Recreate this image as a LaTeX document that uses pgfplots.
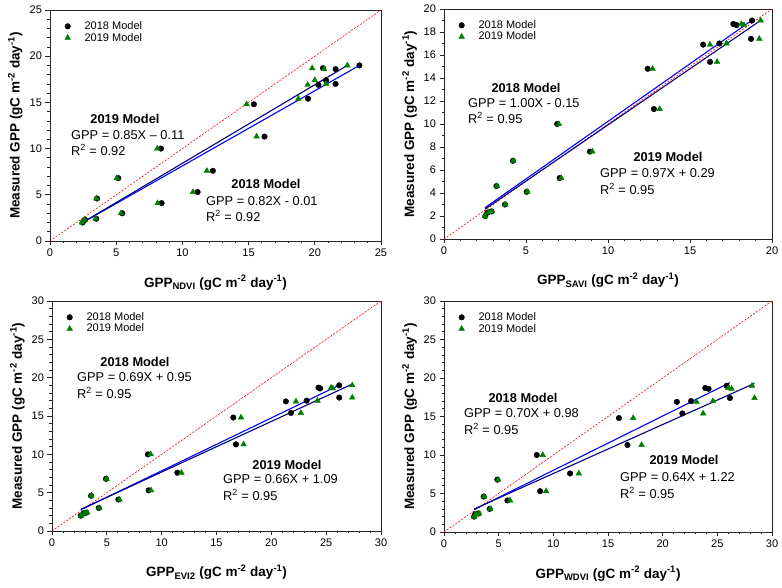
\documentclass[border=0pt]{standalone}
\usepackage{pgfplots}
\usepackage{pgfplotstable}
\pgfplotsset{compat=1.18}
\usepackage{fontspec}
\setmainfont{Liberation Sans}
\definecolor{mgreen}{RGB}{0,128,0}
\definecolor{mblue}{RGB}{0,0,255}
\definecolor{mnavy}{RGB}{0,0,128}

% y = measured GPP ; a = 2018 model ; b = 2019 model
\pgfplotstableread{
y     a      b
19.0  23.37  22.46
18.7  20.62  19.80
18.6  21.57  20.70
17.4  20.85  20.00
17.0  21.57  20.85
16.9  20.27  19.46
15.4  19.49  18.76
14.8  15.40  14.85
11.3  16.20  15.60
10.0  8.38   8.10
7.6   12.30  11.85
6.8   5.16   5.04
5.3   11.15  10.80
4.6   3.55   3.50
4.1   8.43   8.13
3.0   5.46   5.36
2.4   3.50   3.45
2.3   2.65   2.60
2.0   2.47   2.40
}\ndvi
\pgfplotstableread{
y     a      b
19.0  18.78  19.31
18.7  17.64  18.13
18.6  17.84  18.29
17.4  18.72  19.23
17.0  16.79  17.23
16.9  15.80  16.22
15.4  16.22  16.65
14.8  12.42  12.72
11.3  12.80  13.15
10.0  6.90   7.00
7.6   8.90   9.05
6.8   4.20   4.22
5.3   7.05   7.15
4.6   3.20   3.22
4.1   5.04   5.08
3.0   3.72   3.74
2.4   2.90   2.92
2.3   2.65   2.70
2.0   2.52   2.50
}\savi
\pgfplotstableread{
y     a      b
19.0  26.19  27.38
18.7  24.30  25.45
18.6  24.45  25.60
17.4  26.19  27.38
17.0  23.22  24.21
16.9  21.33  22.25
15.4  21.79  22.70
14.8  16.53  17.23
11.3  16.77  17.47
10.0  8.75   9.00
7.6   11.43  11.80
6.8   4.92   4.98
5.3   8.81   9.03
4.6   3.56   3.60
4.1   6.05   6.15
3.0   4.26   4.30
2.4   3.13   3.20
2.3   2.89   2.95
2.0   2.62   2.65
}\evi
\pgfplotstableread{
y     a      b
19.0  25.85  28.17
18.7  23.90  26.00
18.6  24.20  26.30
17.4  26.15  28.40
17.0  22.60  24.60
16.9  21.30  23.10
15.4  21.80  23.70
14.8  16.00  17.30
11.3  16.78  18.07
10.0  8.48   9.03
7.6   11.53  12.33
6.8   4.88   4.95
5.3   8.79   9.34
4.6   3.63   3.66
4.1   5.80   6.04
3.0   4.18   4.22
2.4   3.14   3.20
2.3   2.84   2.90
2.0   2.75   2.78
}\wdvi

\pgfplotsset{
  gppax/.style={
    scale only axis,
    tick pos=left, tick align=outside,
    major tick length=4.5pt, minor tick length=2.5pt,
    axis line style={black!85, line width=0.8pt},
    every tick/.style={black!85, line width=0.7pt},
    /pgf/number format/assume math mode=true,
    ticklabel style={font=\fontsize{11}{13}\selectfont},
    label style={font=\bfseries\fontsize{13.5}{16}\selectfont},
    xlabel style={at={(axis description cs:0.5,-0.18)}, anchor=center},
    ylabel style={at={(axis description cs:-0.105,0.5)}, anchor=center},
    ylabel={Measured GPP (gC m\textsuperscript{-2} day\textsuperscript{-1})},
    legend style={draw=none, fill=none, at={(0.02,0.968)}, anchor=north west,
      font=\fontsize{11}{13}\selectfont, row sep=-2pt},
    legend cell align=left,
    legend image code/.code={%
      \path (-7.7pt,0pt) (14.7pt,0pt);
      \draw[#1] plot coordinates {(0pt,0pt)};},
    minor x tick num=4,
  },
  m18/.style={only marks, mark=*, mark size=2.8pt, draw=black, fill=black},
  m19/.style={only marks, mark=triangle*, mark size=3.3pt, draw=mgreen, fill=mgreen},
  oneone/.style={red, line width=0.6pt, dash pattern=on 2pt off 1.5pt, forget plot},
  l18/.style={mblue, line width=1.1pt, forget plot},
  l19/.style={mnavy, line width=1.1pt, forget plot},
}
\newcommand{\ann}{\fontsize{12.8}{15}\selectfont}

\begin{document}
\begin{tikzpicture}
\path[use as bounding box] (0,0) rectangle (782pt,588pt);

% ---------- NDVI ----------
\begin{axis}[gppax, at={(50pt,347pt)}, anchor=south west,
  width=331pt, height=231pt,
  xmin=0, xmax=25, ymin=0, ymax=25,
  xtick={0,5,...,25}, ytick={0,5,...,25}, minor y tick num=4,
  xlabel={GPP\textsubscript{NDVI} (gC m\textsuperscript{-2} day\textsuperscript{-1})}]
\addplot[oneone] coordinates {(0,0) (25,25)};
\addplot[m18] table[x=a,y=y] {\ndvi};
\addplot[m19] table[x=b,y=y] {\ndvi};
\addplot[l18] coordinates {(2.47,2.0) (23.37,19.0)};
\addplot[l19] coordinates {(2.40,1.95) (22.46,19.0)};
\legend{2018 Model, 2019 Model}
\end{axis}

% ---------- SAVI ----------
\begin{axis}[gppax, at={(444pt,349pt)}, anchor=south west,
  width=328pt, height=230pt,
  xmin=0, xmax=20, ymin=0, ymax=20,
  xtick={0,5,...,20}, ytick={0,2,...,20}, minor y tick num=1,
  xlabel={GPP\textsubscript{SAVI} (gC m\textsuperscript{-2} day\textsuperscript{-1})}]
\addplot[oneone] coordinates {(0,0) (20,20)};
\addplot[m18] table[x=a,y=y] {\savi};
\addplot[m19] table[x=b,y=y] {\savi};
\addplot[l18] coordinates {(2.50,2.72) (18.78,19.02)};
\addplot[l19] coordinates {(2.50,2.60) (19.25,18.95)};
\legend{2018 Model, 2019 Model}
\end{axis}

% ---------- EVI2 ----------
\begin{axis}[gppax, at={(52pt,57pt)}, anchor=south west,
  width=329pt, height=230pt,
  xmin=0, xmax=30, ymin=0, ymax=30,
  xtick={0,5,...,30}, ytick={0,5,...,30}, minor y tick num=4,
  xlabel={GPP\textsubscript{EVI2} (gC m\textsuperscript{-2} day\textsuperscript{-1})}]
\addplot[oneone] coordinates {(0,0) (30,30)};
\addplot[m18] table[x=a,y=y] {\evi};
\addplot[m19] table[x=b,y=y] {\evi};
\addplot[l18] coordinates {(2.62,2.76) (26.19,19.02)};
\addplot[l19] coordinates {(2.65,2.84) (27.38,19.16)};
\legend{2018 Model, 2019 Model}
\end{axis}

% ---------- WDVI ----------
\begin{axis}[gppax, at={(444pt,56pt)}, anchor=south west,
  width=328pt, height=231pt,
  xmin=0, xmax=30, ymin=0, ymax=30,
  xtick={0,5,...,30}, ytick={0,5,...,30}, minor y tick num=4,
  xlabel={GPP\textsubscript{WDVI} (gC m\textsuperscript{-2} day\textsuperscript{-1})}]
\addplot[oneone] coordinates {(0,0) (30,30)};
\addplot[m18] table[x=a,y=y] {\wdvi};
\addplot[m19] table[x=b,y=y] {\wdvi};
\addplot[l18] coordinates {(2.75,2.90) (26.15,19.40)};
\addplot[l19] coordinates {(2.78,3.00) (28.40,19.30)};
\legend{2018 Model, 2019 Model}
\end{axis}

% ---------- annotations ----------
\begin{scope}[every node/.style={inner sep=0pt}]
% NDVI
\node[anchor=center] at (125pt,469pt) {\ann\bfseries 2019 Model};
\node[anchor=west] at (71pt,453pt) {\ann GPP = 0.85X -- 0.11};
\node[anchor=west] at (71pt,438pt) {\ann R\textsuperscript{2} = 0.92};
\node[anchor=center] at (266pt,404pt) {\ann\bfseries 2018 Model};
\node[anchor=west] at (206pt,387pt) {\ann GPP = 0.82X - 0.01};
\node[anchor=west] at (206pt,372pt) {\ann R\textsuperscript{2} = 0.92};
% SAVI
\node[anchor=center] at (526pt,500pt) {\ann\bfseries 2018 Model};
\node[anchor=west] at (468pt,485pt) {\ann GPP = 1.00X - 0.15};
\node[anchor=west] at (468pt,470pt) {\ann R\textsuperscript{2} = 0.95};
\node[anchor=center] at (668pt,431pt) {\ann\bfseries 2019 Model};
\node[anchor=west] at (600pt,415pt) {\ann GPP = 0.97X + 0.29};
\node[anchor=west] at (600pt,399pt) {\ann R\textsuperscript{2} = 0.95};
% EVI2
\node[anchor=center] at (135pt,226pt) {\ann\bfseries 2018 Model};
\node[anchor=west] at (77pt,211pt) {\ann GPP = 0.69X + 0.95};
\node[anchor=west] at (77pt,195pt) {\ann R\textsuperscript{2} = 0.95};
\node[anchor=center] at (287pt,123pt) {\ann\bfseries 2019 Model};
\node[anchor=west] at (223pt,109pt) {\ann GPP = 0.66X + 1.09};
\node[anchor=west] at (223pt,93pt) {\ann R\textsuperscript{2} = 0.95};
% WDVI
\node[anchor=center] at (523pt,190pt) {\ann\bfseries 2018 Model};
\node[anchor=west] at (464pt,175pt) {\ann GPP = 0.70X + 0.98};
\node[anchor=west] at (464pt,159pt) {\ann R\textsuperscript{2} = 0.95};
\node[anchor=center] at (684pt,128pt) {\ann\bfseries 2019 Model};
\node[anchor=west] at (620pt,111pt) {\ann GPP = 0.64X + 1.22};
\node[anchor=west] at (620pt,95pt) {\ann R\textsuperscript{2} = 0.95};
\end{scope}
\end{tikzpicture}
\end{document}
